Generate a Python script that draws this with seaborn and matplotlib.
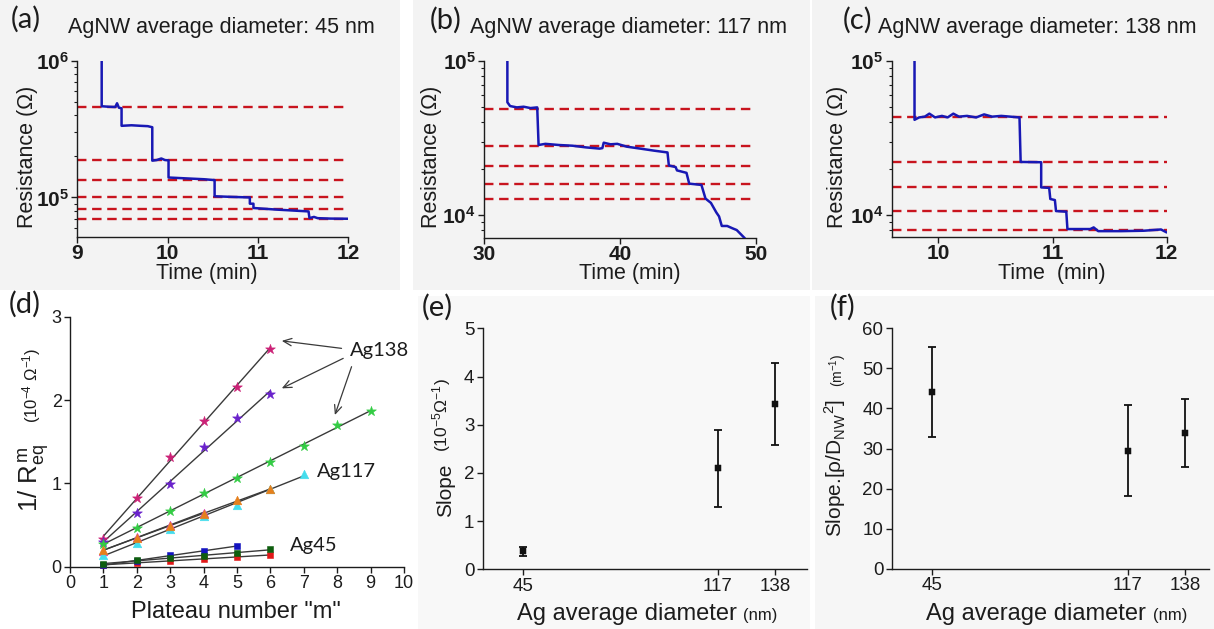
import numpy as np
import pandas as pd
import matplotlib
matplotlib.use("Agg")
import matplotlib.pyplot as plt
from matplotlib.patches import Rectangle
from matplotlib.ticker import LogLocator, NullFormatter, FuncFormatter
import seaborn as sns

# ---------------- resistance traces: time (min) / resistance (ohm) ----------------
a_time = [9.27, 9.27, 9.35, 9.42, 9.44, 9.46, 9.49, 9.49, 9.60, 9.70, 9.78, 9.83, 9.83,
          9.88, 9.93, 9.97, 10.01, 10.01, 10.20, 10.40, 10.52, 10.52, 10.70, 10.91, 10.91,
          10.95, 10.95, 11.20, 11.56, 11.57, 11.62, 11.66, 11.80, 12.00]
a_res = [1.0e6, 4.66e5, 4.62e5, 4.6e5, 4.9e5, 4.55e5, 4.5e5, 3.35e5, 3.38e5, 3.35e5, 3.33e5,
         3.27e5, 1.86e5, 1.88e5, 1.93e5, 1.88e5, 1.87e5, 1.40e5, 1.38e5, 1.36e5, 1.34e5,
         1.02e5, 1.01e5, 1.0e5, 9.0e4, 9.0e4, 8.37e4, 8.15e4, 7.9e4, 7.06e4, 7.2e4, 7.05e4,
         7.0e4, 6.98e4]
a_levels = [4.63e5, 1.89e5, 1.35e5, 1.0e5, 8.2e4, 6.95e4]

b_time = [31.7, 31.7, 31.9, 32.4, 32.9, 33.4, 33.9, 34.0, 34.5, 35.5, 36.5, 37.5, 38.5, 38.7,
          38.8, 39.3, 39.8, 40.5, 41.5, 42.5, 43.5, 43.6, 44.1, 44.2, 44.9, 45.1, 46.0, 46.3,
          46.7, 47.1, 47.3, 47.5, 47.9, 48.3, 48.6, 49.2]
b_res = [1.0e5, 5.4e4, 5.1e4, 5.0e4, 5.05e4, 4.95e4, 5.0e4, 2.85e4, 2.9e4, 2.85e4, 2.82e4,
         2.75e4, 2.7e4, 2.72e4, 2.95e4, 2.88e4, 2.9e4, 2.78e4, 2.7e4, 2.62e4, 2.55e4, 2.1e4,
         2.05e4, 1.95e4, 1.88e4, 1.6e4, 1.57e4, 1.28e4, 1.2e4, 1.04e4, 9.8e3, 8.5e3, 8.5e3,
         8.2e3, 8.0e3, 7.07e3]
b_levels = [4.90e4, 2.81e4, 2.09e4, 1.59e4, 1.28e4]

c_time = [9.79, 9.79, 9.83, 9.88, 9.92, 9.97, 10.03, 10.08, 10.13, 10.18, 10.25, 10.33, 10.40,
          10.47, 10.55, 10.63, 10.71, 10.72, 10.90, 10.90, 10.97, 10.98, 11.02, 11.03, 11.12,
          11.13, 11.25, 11.33, 11.36, 11.40, 11.60, 11.80, 11.95, 12.00]
c_res = [1.0e5, 4.15e4, 4.3e4, 4.35e4, 4.55e4, 4.3e4, 4.4e4, 4.3e4, 4.55e4, 4.35e4, 4.4e4,
         4.3e4, 4.5e4, 4.35e4, 4.4e4, 4.35e4, 4.3e4, 2.21e4, 2.2e4, 1.51e4, 1.5e4, 1.27e4,
         1.25e4, 1.06e4, 1.05e4, 8.1e3, 8.1e3, 8.1e3, 8.3e3, 7.85e3, 7.85e3, 7.9e3, 8.05e3, 7.7e3]
c_levels = [4.31e4, 2.21e4, 1.51e4, 1.06e4, 8.0e3]

# ---------------- 1/R_eq versus plateau number (1e-4 / ohm) ----------------
ag138_a = [0.33, 0.82, 1.32, 1.75, 2.16, 2.61]
ag138_b = [0.30, 0.65, 0.99, 1.44, 1.78, 2.07]
ag138_c = [0.27, 0.47, 0.67, 0.89, 1.06, 1.26, 1.45, 1.70, 1.87]
ag117_a = [0.20, 0.35, 0.49, 0.63, 0.80, 0.93]
ag117_b = [0.19, 0.36, 0.50, 0.65]
ag117_c = [0.14, 0.29, 0.45, 0.61, 0.74, 0.93, 1.11]
ag45_a = [0.02, 0.07, 0.14, 0.185, 0.25]
ag45_b = [0.03, 0.08, 0.11, 0.13, 0.16, 0.21]
ag45_c = [0.02, 0.05, 0.07, 0.09, 0.12, 0.14]

# ---------------- slopes versus diameter ----------------
diam_nm = [45, 117, 138]
slope_val = [0.37, 2.10, 3.43]
slope_err = [0.09, 0.80, 0.86]
norm_val = [44.1, 29.5, 33.8]
norm_err = [11.2, 11.3, 8.5]

W, H = 1214, 629
sns.set_theme(style="ticks")
plt.rcParams["font.family"] = ["Liberation Sans", "DejaVu Sans"]
plt.rcParams["mathtext.fontset"] = "custom"
plt.rcParams["mathtext.rm"] = "Liberation Sans"
plt.rcParams["mathtext.it"] = "Liberation Sans:italic"
plt.rcParams["mathtext.bf"] = "Liberation Sans:bold"
plt.rcParams["axes.unicode_minus"] = True

INK = "#1c1c1c"
BLUE = "#1818b4"
RED = "#c8141e"
FIT = "#3a3a3a"

fig = plt.figure(figsize=(W / 100, H / 100), dpi=100)
fig.patch.set_facecolor("white")


def box(l, t, r, b):
    return [l / W, 1 - b / H, (r - l) / W, (b - t) / H]


def put(x, y, s, **kw):
    kw.setdefault("ha", "center")
    kw.setdefault("va", "center")
    kw.setdefault("color", INK)
    return fig.text(x / W, 1 - y / H, s, **kw)


# soft grey panel backdrops
for (l, t, r, b, col) in [(0, 0, 400, 290, "#f3f3f3"), (413, 0, 810, 290, "#f3f3f3"),
                          (812, 0, 1214, 290, "#f3f3f3"), (418, 296, 810, 629, "#f8f8f8"),
                          (815, 296, 1214, 629, "#f6f6f6")]:
    fig.patches.append(Rectangle((l / W, 1 - b / H), (r - l) / W, (b - t) / H,
                                 transform=fig.transFigure, facecolor=col,
                                 edgecolor="none", zorder=-10))


def style_axes(ax, size):
    sns.despine(ax=ax)
    for s in ("left", "bottom"):
        ax.spines[s].set_color(INK)
        ax.spines[s].set_linewidth(1.0)
    ax.tick_params(direction="out", length=4, width=1, color=INK, labelsize=size,
                   labelcolor=INK, pad=2)
    ax.set_facecolor("none")
    ax.grid(False)


def trace_panel(rect, t, r, levels, xlim, ylim, xticks):
    ax = fig.add_axes(box(*rect))
    style_axes(ax, 15)
    for lv in levels:
        ax.axhline(lv, color=RED, lw=1.7, ls=(0, (4, 2.4)), zorder=1)
    sns.lineplot(x=t, y=r, ax=ax, sort=False, estimator=None, color=BLUE, lw=1.8, zorder=3)
    ax.set_yscale("log")
    ax.set_xlim(*xlim)
    ax.set_ylim(*ylim)
    ax.yaxis.set_major_locator(LogLocator(base=10, numticks=10))
    ax.yaxis.set_minor_locator(LogLocator(base=10, subs=np.arange(2, 10), numticks=20))
    ax.yaxis.set_major_formatter(FuncFormatter(lambda v, p: r"$\mathbf{10^{%d}}$" % round(np.log10(v))))
    ax.yaxis.set_minor_formatter(NullFormatter())
    ax.tick_params(axis="y", which="minor", length=2.5, width=0.8, color=INK)
    ax.set_xticks(xticks)
    ax.set_xticklabels([str(v) for v in xticks], fontweight="bold")
    ax.tick_params(axis="x", pad=1)
    ax.set_xlabel("")
    ax.set_ylabel("")
    return ax


trace_panel((77.3, 61, 348.3, 237), a_time, a_res, a_levels, (9, 12), (5.13e4, 1e6), [9, 10, 11, 12])
trace_panel((484.3, 61, 755.7, 238.3), b_time, b_res, b_levels, (30, 50), (7.07e3, 1e5), [30, 40, 50])
trace_panel((891.7, 61, 1166.7, 237.3), c_time, c_res, c_levels, (9.59, 12), (7.16e3, 1e5), [10, 11, 12])

for x, s in [(68, "AgNW average diameter: 45 nm"), (470, "AgNW average diameter: 117 nm"),
             (878, "AgNW average diameter: 138 nm")]:
    put(x, 27, s, fontsize=15.5, ha="left")
for x in (27, 432, 838):
    put(x, 157, "Resistance (Ω)", fontsize=15.5, rotation=90)
put(207, 274, "Time (min)", fontsize=15.5)
put(630, 274, "Time (min)", fontsize=15.5)
put(1052, 274, "Time  (min)", fontsize=15.5)

# ---------------- panel d ----------------
axd = fig.add_axes(box(70, 316.7, 404, 566.7))
style_axes(axd, 13)
series_d = [
    (ag138_a, "*", "#cc2277", 55),
    (ag138_b, "*", "#6a22cc", 55),
    (ag138_c, "*", "#33cc44", 55),
    (ag117_b, "^", "#dd44bb", 38),
    (ag117_c, "^", "#44dded", 38),
    (ag117_a, "^", "#e6801c", 38),
    (ag45_c, "s", "#e01818", 22),
    (ag45_a, "s", "#1414c0", 22),
    (ag45_b, "s", "#0e5e0e", 22),
]
for vals, mk, col, sz in series_d:
    m = np.arange(1, len(vals) + 1)
    sns.regplot(x=m, y=vals, ax=axd, scatter=False, ci=None, truncate=True,
                line_kws=dict(color=FIT, lw=1.0, zorder=2))
for vals, mk, col, sz in series_d:
    m = np.arange(1, len(vals) + 1)
    sns.scatterplot(x=m, y=vals, ax=axd, marker=mk, color=col, s=sz, edgecolor=col,
                    linewidth=0.4, zorder=4, clip_on=False)
axd.set_xlim(0, 10)
axd.set_ylim(0, 3)
axd.set_xticks(range(0, 11))
axd.set_yticks([0, 1, 2, 3])
axd.set_xlabel("")
axd.set_ylabel("")

arrow_tails = [(8.13, 2.62), (8.18, 2.50), (8.43, 2.40)]
arrow_heads = [(6.34, 2.71), (6.34, 2.14), (7.93, 1.82)]
for (x0, y0), (x1, y1) in zip(arrow_tails, arrow_heads):
    axd.annotate("", xy=(x1, y1), xytext=(x0, y0),
                 arrowprops=dict(arrowstyle="->,head_length=0.5,head_width=0.22",
                                 color=FIT, lw=0.9, shrinkA=0, shrinkB=0))
for x, y, s in [(9.28, 2.60, "Ag138"), (8.28, 1.14, "Ag117"), (7.29, 0.25, "Ag45")]:
    axd.text(x, y, s, fontsize=14.5, family="Lato", ha="center", va="center", color=INK)

put(34, 478, r"1/ R$^{\,\mathrm{m}}_{\mathrm{eq}}$", fontsize=18.5, rotation=90)
put(32, 385, r"(10$^{-4}$ Ω$^{-1}$)", fontsize=12, rotation=90)
put(236, 612, 'Plateau number "m"', fontsize=17)

# ---------------- panels e and f ----------------
def slope_panel(rect, vals, errs, ylim, yticks, xlim):
    ax = fig.add_axes(box(*rect))
    style_axes(ax, 13.5)
    ax.errorbar(diam_nm, vals, yerr=errs, fmt="none", ecolor="#111111", elinewidth=1.3,
                capsize=3, capthick=1.3, zorder=2)
    sns.scatterplot(x=diam_nm, y=vals, ax=ax, marker="s", color="#111111", s=20,
                    edgecolor="#111111", zorder=3)
    ax.set_xlim(*xlim)
    ax.set_ylim(*ylim)
    ax.set_xticks(diam_nm)
    ax.set_yticks(yticks)
    ax.set_xlabel("")
    ax.set_ylabel("")
    return ax


slope_panel((482.7, 328.3, 807.3, 569.3), slope_val, slope_err, (0, 5), range(0, 6), (30, 150))
slope_panel((891.7, 328.3, 1209.3, 568.7), norm_val, norm_err, (0, 60), range(0, 61, 10), (30, 147))

put(446, 490, "Slope", fontsize=15, rotation=90)
put(441.7, 415, r"(10$^{-5}$Ω$^{-1}$)", fontsize=12.5, rotation=90)
put(835, 468, r"Slope.[ρ/D$_{\mathrm{NW}}{}^{2}$]", fontsize=15, rotation=90)
put(838, 370, r"(m$^{-1}$)", fontsize=10, rotation=90)

for x0, x1 in [(517, 743), (926, 1153)]:
    put(x0, 620, "Ag average diameter", fontsize=17, ha="left", va="baseline")
    put(x1, 620, "(nm)", fontsize=12, ha="left", va="baseline")

# ---------------- panel letters ----------------
for x, y, s in [(26, 19, "(a)"), (446, 20, "(b)"), (858, 20, "(c)"),
                (25, 304, "(d)"), (437, 307, "(e)"), (843, 307, "(f)")]:
    put(x, y, s, fontsize=21, family="Lato")

fig.savefig("out.png", dpi=100, facecolor="white")
